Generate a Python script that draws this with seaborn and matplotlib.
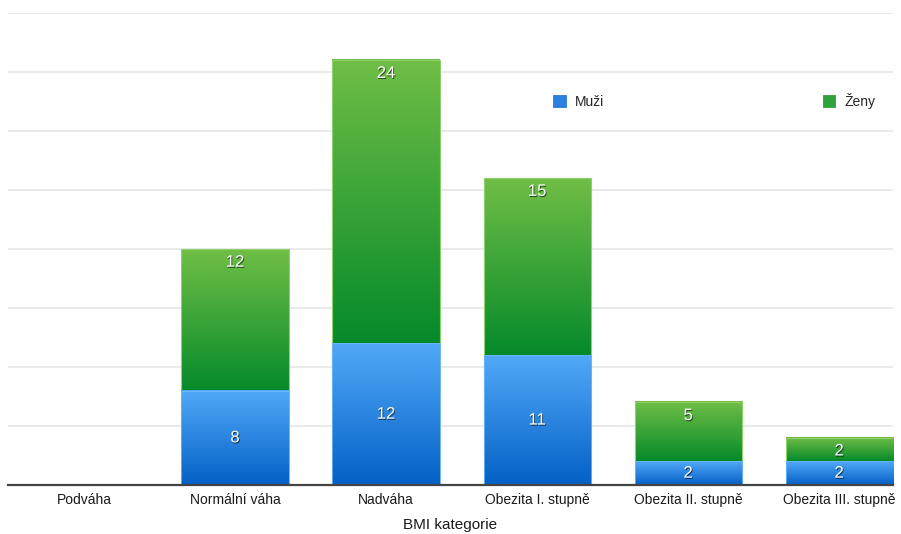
import numpy as np
import pandas as pd
import matplotlib
matplotlib.use("Agg")
import matplotlib.pyplot as plt
import seaborn as sns
from matplotlib.colors import LinearSegmentedColormap
from matplotlib.patches import Patch
import matplotlib.patheffects as pe

categories = ["Podváha", "Normální váha", "Nadváha", "Obezita I. stupně",
              "Obezita II. stupně", "Obezita III. stupně"]
muzi = [0, 8, 12, 11, 2, 2]
zeny = [0, 12, 24, 15, 5, 2]
series_names = ["Muži", "Ženy"]
x_label = "BMI kategorie"

totals = [m + z for m, z in zip(muzi, zeny)]

sns.set_theme(style="white")
plt.rcParams['font.family'] = ['Liberation Sans', 'DejaVu Sans']

fig = plt.figure(figsize=(9.01, 5.34), dpi=100)
ax = fig.add_axes([8/901, 49/534, 885/901, 472/534])

blue_mid = "#2f86e3"
green_mid = "#2ea33a"
bw = 0.71

sns.barplot(x=categories, y=totals, color=green_mid, saturation=1, width=bw, ax=ax, zorder=2)
sns.barplot(x=categories, y=muzi, color=blue_mid, saturation=1, width=bw, ax=ax, zorder=4)

blue_cmap = LinearSegmentedColormap.from_list("b", ["#0560c6", "#52a9f8"])
green_cmap = LinearSegmentedColormap.from_list("g", ["#058a2a", "#70be46"])
grad = np.linspace(0, 1, 256).reshape(-1, 1)

for i, patch in enumerate(ax.containers[0]):
    lo, hi = muzi[i], totals[i]
    if hi - lo > 0:
        x0 = patch.get_x(); x1 = x0 + patch.get_width()
        ax.imshow(grad, extent=(x0, x1, lo, hi), origin="lower", aspect="auto",
                  cmap=green_cmap, zorder=3, interpolation="bilinear")
    patch.set_facecolor("none")
    patch.set_edgecolor("#8fd16c" if hi > 0 else "none")
    patch.set_linewidth(0.8)
    patch.set_zorder(3.5)
for i, patch in enumerate(ax.containers[1]):
    lo, hi = 0, muzi[i]
    if hi - lo > 0:
        x0 = patch.get_x(); x1 = x0 + patch.get_width()
        ax.imshow(grad, extent=(x0, x1, lo, hi), origin="lower", aspect="auto",
                  cmap=blue_cmap, zorder=5, interpolation="bilinear")
    patch.set_facecolor("none")
    patch.set_edgecolor("#6cb8f7" if hi > 0 else "none")
    patch.set_linewidth(0.6)
    patch.set_zorder(5.5)

shadow = [pe.SimplePatchShadow(offset=(0.6, -0.8), shadow_rgbFace="black", alpha=0.6), pe.Normal()]
for i in range(len(categories)):
    if muzi[i] > 0:
        ax.text(i, muzi[i] / 2, str(muzi[i]), ha="center", va="center", color="white",
                fontsize=12, zorder=6, path_effects=shadow)
    if zeny[i] > 0:
        ax.annotate(str(zeny[i]), xy=(i, totals[i]), xytext=(0, -9.5), textcoords="offset points",
                    ha="center", va="center", color="white", fontsize=12, zorder=6,
                    path_effects=shadow)

ax.set_xlim(-0.503, 5.356)
ax.set_ylim(0, 40)
ax.set_yticks(np.arange(0, 41, 5))
ax.set_yticklabels([])
ax.yaxis.grid(True, color="#e6e6e6", linewidth=1.2)
ax.xaxis.grid(False)
ax.set_axisbelow(True)
for s in ["top", "left", "right"]:
    ax.spines[s].set_visible(False)
ax.spines["bottom"].set_color("#444444")
ax.spines["bottom"].set_linewidth(1.6)
ax.spines["bottom"].set_zorder(7)
ax.tick_params(axis="x", length=0, pad=6, labelsize=10, labelcolor="#1a1a1a")
ax.tick_params(axis="y", length=0)
ax.set_xlabel(x_label, fontsize=11, color="#1a1a1a", labelpad=8)
ax.set_ylabel("")

handles = [Patch(facecolor="#2a7fe0", edgecolor="#1b6cc8", linewidth=0.5),
           Patch(facecolor="#2ea33a", edgecolor="#23902e", linewidth=0.5)]
fig.legend(handles, series_names, loc="center left", bbox_to_anchor=(553/901, 1 - 101/534),
           bbox_transform=fig.transFigure, ncol=2, frameon=False, fontsize=10,
           handlelength=0.9, handleheight=0.9, handletextpad=0.7, columnspacing=15.7,
           borderpad=0, borderaxespad=0)

fig.savefig("out.png", dpi=100, facecolor="white")
